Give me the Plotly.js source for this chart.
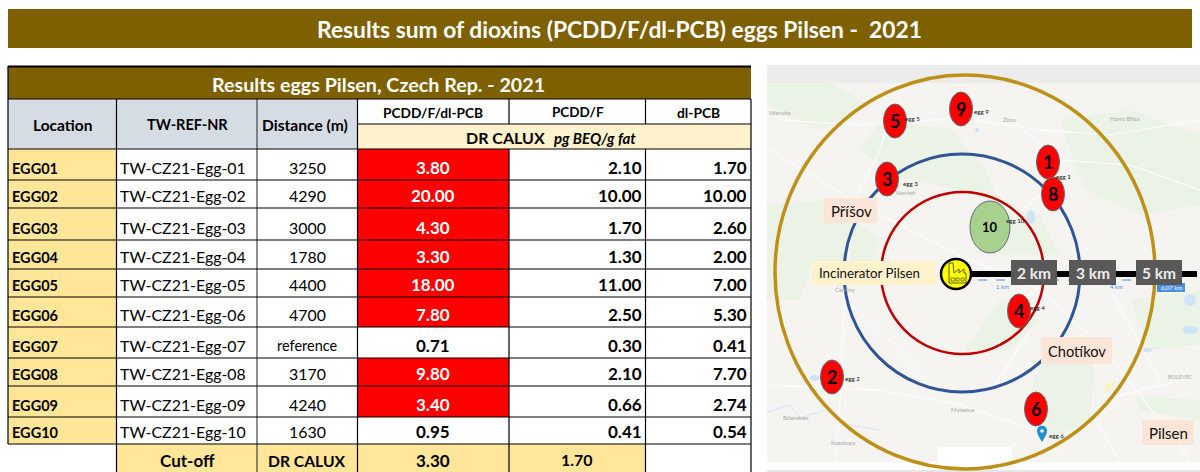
<!DOCTYPE html>
<html><head><meta charset="utf-8">
<script src="https://cdn.plot.ly/plotly-3.0.1.min.js"></script>
<style>html,body{margin:0;padding:0;background:#fff}#c{width:1200px;height:472px}</style>
</head><body><div id="c"></div>
<script>
// ---- chart data ----
const pageTitle = "Results sum of dioxins (PCDD/F/dl-PCB) eggs Pilsen -\u00A0\u00A02021";
const tableTitle = "Results eggs Pilsen, Czech Rep. - 2021";
const locations = ["EGG01","EGG02","EGG03","EGG04","EGG05","EGG06","EGG07","EGG08","EGG09","EGG10"];
const refNumbers = ["TW-CZ21-Egg-01","TW-CZ21-Egg-02","TW-CZ21-Egg-03","TW-CZ21-Egg-04","TW-CZ21-Egg-05","TW-CZ21-Egg-06","TW-CZ21-Egg-07","TW-CZ21-Egg-08","TW-CZ21-Egg-09","TW-CZ21-Egg-10"];
const distances = ["3250","4290","3000","1780","4400","4700","reference","3170","4240","1630"];
const totalTeq = [3.80,20.00,4.30,3.30,18.00,7.80,0.71,9.80,3.40,0.95];
const pcddTeq = [2.10,10.00,1.70,1.30,11.00,2.50,0.30,2.10,0.66,0.41];
const dlpcbTeq = [1.70,10.00,2.60,2.00,7.00,5.30,0.41,7.70,2.74,0.54];
const cutoffTotal = 3.30;
const cutoffPcdd = 1.70;
const ringLabels = ["2 km","3 km","5 km"];
const eggNumbers = ["1","2","3","4","5","6","8","9","10"];
const placeNames = ["Příšov","Incinerator Pilsen","Chotíkov","Pilsen"];
const mapNames = ["Všeruby","Žilov","Horní Bříza","Nevřeň","Čeminy","Malesice","Bdeněves","Kozolupy","BOLEVEC"];

// ---- layout geometry (page pixels) ----
const FONT = "Lato, Carlito, sans-serif";
const rows = [149,180,208,240,269,297,327,358,386,417,444];
const BROWN="#7F6000", GRAY="#D6DCE4", YEL="#FFE699", LYEL="#FFF2CC", RED="#FF0000", INK="#000000";
const shapes=[], anns=[];
const rect=(x0,y0,x1,y1,fill,lw,lc)=>shapes.push({type:"rect",xref:"x",yref:"y",x0,y0,x1,y1,fillcolor:fill,line:{width:lw||0,color:lc||"rgba(0,0,0,0)"},layer:"below"});
const ln=(x0,y0,x1,y1,c,w,d)=>shapes.push({type:"line",xref:"x",yref:"y",x0,y0,x1,y1,line:{color:c,width:w,dash:d||"solid"},layer:"below"});
const oval=(cx,cy,rx,ry,fill,c,w)=>shapes.push({type:"circle",xref:"x",yref:"y",x0:cx-rx,x1:cx+rx,y0:cy-ry,y1:cy+ry,fillcolor:fill,line:{color:c,width:w},layer:"below"});
const path=(d,fill,c,w)=>shapes.push({type:"path",xref:"x",yref:"y",path:d,fillcolor:fill||"rgba(0,0,0,0)",line:{color:c||"rgba(0,0,0,0)",width:w||0},layer:"below"});
const txt=(x,y,text,size,color,anchor)=>anns.push({xref:"x",yref:"y",x,y,text,showarrow:false,xanchor:anchor||"center",yanchor:"middle",font:{family:FONT,size,color:color||INK},borderpad:0,borderwidth:0});

// page title
rect(8,9,1192,48,BROWN);
txt(619,28.5,"<b>"+pageTitle+"</b>",22.8,"#fff");

// table background and fills
rect(8,67,751,99,BROWN);
txt(378.5,84,"<b>"+tableTitle+"</b>",19.7,"#fff");
rect(8,99,357.5,149,GRAY);
rect(357.5,124,751,149,LYEL);
rect(8,149,116.5,444,YEL);
rect(116.5,444,645.5,472,YEL);
const fmt=v=>v.toFixed(2);
locations.forEach((loc,i)=>{
  const top=rows[i], bot=rows[i+1]||444;
  if(totalTeq[i]>=cutoffTotal) rect(357.5,top,509,bot,RED);
});
// table rules
const LW=1.2;
ln(8,66.5,751,66.5,INK,1.8);
ln(8,66,8,444,INK,LW);
ln(751,99,751,472,INK,LW);
ln(116.5,99,116.5,472,INK,LW);
ln(257,99,257,472,"#444",LW);
ln(357.5,99,357.5,472,INK,LW);
ln(509,99,509,124,INK,LW);
ln(509,149,509,472,INK,LW);
ln(645.5,99,645.5,124,INK,LW);
ln(645.5,149,645.5,472,INK,LW);
ln(357.5,124,751,124,INK,LW);
ln(8,99,751,99,INK,LW);
rows.forEach(y=>ln(8,y,751,y,INK,LW));

// header text
txt(62,124.5,"<b>Location</b>",15.5);
txt(187,124.5,"<b>TW-REF-NR</b>",14.5);
txt(305,124.5,"<b>Distance (m)</b>",15.6);
txt(433,112,"<b>PCDD/F/dl-PCB</b>",13.7);
txt(577.5,112,"<b>PCDD/F</b>",13.5);
txt(698,112,"<b>dl-PCB</b>",13.8);
txt(505.5,137,"<b>DR CALUX</b>",16);
txt(595,138,"<b><i>pg BEQ/g fat</i></b>",15);

// body text
locations.forEach((loc,i)=>{
  const bot=rows[i+1]||444, y=bot-13;
  txt(12,y+1.5,"<b>"+loc+"</b>",14.5,INK,"left");
  txt(120,y,refNumbers[i],15.9,INK,"left");
  txt(307,y,distances[i],distances[i]==="reference"?14.5:15.9);
  const hot=totalTeq[i]>=cutoffTotal;
  txt(433,y,"<b>"+fmt(totalTeq[i])+"</b>",17,hot?"#fff":INK);
  txt(642,y,"<b>"+fmt(pcddTeq[i])+"</b>",17,INK,"right");
  txt(747,y,"<b>"+fmt(dlpcbTeq[i])+"</b>",17,INK,"right");
});
txt(187,460.5,"<b>Cut-off</b>",17);
txt(307,460.5,"<b>DR CALUX</b>",15.7);
txt(433,460.5,"<b>"+fmt(cutoffTotal)+"</b>",17);
txt(577,459.5,"<b>"+fmt(cutoffPcdd)+"</b>",16);

// ---- map backdrop ----
rect(767,65,1200,83,"#ECECEC");
rect(767,83,1200,462,"#F5F4F1");
rect(767,470,1200,472,"#E6E6E6");
const G="#EBF3E6";
[
 "M767 205 L830 200 L880 240 L872 262 L812 262 L800 300 L767 300 Z",
 "M880 122 L950 128 L985 170 L1000 205 L960 190 L900 178 L860 150 Z",
 "M1060 120 L1130 110 L1200 135 L1200 205 L1140 215 L1085 190 Z",
 "M990 205 L1040 215 L1060 255 L1000 255 Z",
 "M1040 365 L1095 345 L1090 420 L1050 440 L1030 395 Z",
 "M1130 300 L1200 290 L1200 345 L1150 350 Z",
 "M1000 300 L1040 320 L1010 350 L965 350 Z",
 "M767 83 L830 83 L870 105 L820 130 L767 105 Z",
 "M1135 395 L1200 400 L1200 420 L1140 410 Z"
].forEach(d=>path(d,G));
const R="#FBFBFA";
[
 "M767 148 L860 205 L960 255 L1040 290 L1100 345 L1140 395 L1190 460",
 "M1190 378 L1120 395 L1095 420 L1120 462",
 "M780 120 L860 125 L960 118 L1040 130 L1110 135 L1200 120",
 "M895 100 L880 150 L855 200 L845 285 L840 400 L835 462",
 "M767 385 L880 390 L960 405 L1035 430 L1060 455",
 "M1010 118 L1060 160 L1130 165 L1200 190",
 "M1060 180 L1015 215 L990 200",
 "M1110 290 L1160 380",
 "M845 300 L895 345 L930 385",
 "M1030 330 L995 385"
].forEach(d=>path(d,null,R,1.4));
// water
[[977,130,2,2],[1031,217,4,7],[815,378,5,3],[1190,330,8,4],[1190,300,6,6],[1147,350,5,2]].forEach(w=>oval(w[0],w[1],w[2],w[3],"#CFE4F6","rgba(0,0,0,0)",0));
path("M767 412 L790 405 L800 418 L825 410 L850 425 L880 430",null,"#D5E5F5",1);
path("M1105 385 L1117 380 L1113 390 L1105 392 Z","#FBF3C8");
// faded place names
const mapNamePos=[[780,112],[1010,119],[1125,118],[905,192],[845,289],[962,409],[796,417],[843,442],[1180,377]];
mapNames.forEach((n,i)=>txt(mapNamePos[i][0],mapNamePos[i][1],n,i===8?5.5:6,"#A8A8A8"));
// scale ruler under the rings
ln(960,280,1152,280,"#4A90E2",1,"dash");
txt(1002,286,"1 km",6,"#4A90E2");
txt(1116,286,"4 km",6,"#4A90E2");
rect(1157,283,1185,292,"#4A90E2");
txt(1171,287.5,"6,07 km",6,"#fff");
rect(938,447,1012,462,"#fff");
rect(767,462,1200,470,"#fff");

// rings
oval(965,272,190,197,"rgba(0,0,0,0)","#BF9018",3.5);
oval(962,273,118,119,"rgba(0,0,0,0)","#2F5597",3);
oval(962.5,273,81.5,81,"rgba(0,0,0,0)","#C00000",2.5);

// incinerator spoke and distance boxes
ln(960,274,1197,274,"#000",6);
const boxEdges=[[1011,1057],[1069,1116],[1136,1182]];
ringLabels.forEach((t,i)=>{
  rect(boxEdges[i][0],260,boxEdges[i][1],285,"#595959");
  txt((boxEdges[i][0]+boxEdges[i][1])/2,273,"<b>"+t+"</b>",15.5,"#EDEDED");
});
oval(956,274,15,15,"#FFFF00","#000",2.5);
path("M949 283 L949 263 L953 263 L954 273 L959 269 L959 273 L964 269 L964 273 L966 273 L966 283 Z","#FFFF00","#5b5b00",1);
path("M951 278 L955 278 L955 281 L951 281 Z M956 278 L959 278 L959 281 L956 281 Z M961 278 L964 278 L964 281 L961 281 Z","rgba(0,0,0,0)","#5b5b00",0.8);

// place name boxes
const placeBoxes=[[824,198,877,223,"#FBE5D6",851,211,15],[812,261,936,285,"#FFF2CC",869.5,273,13.3],[1041,337,1112,364,"#FBE5D6",1077,351,14.6],[1142,420,1194,445,"#FBE5D6",1168,433,15]];
placeNames.forEach((n,i)=>{
  const b=placeBoxes[i];
  rect(b[0],b[1],b[2],b[3],b[4]);
  txt(b[5],b[6],n,b[7],"#111");
});

// sampling sites
const eggPos=[[1048,162],[832,377],[887,179],[1019,311],[895,121],[1036,409],[1053,194],[961,109],[990,227]];
const eggTag=[[1063,176,"egg 1"],[852,378,"egg 2"],[910,183,"egg 3"],[1037,307,"egg 4"],[912,118,"egg 5"],[1056.5,435,"egg 6"],null,[981,111,"egg 9"],[1015,220,"egg 10"]];
eggNumbers.forEach((n,i)=>{
  const p=eggPos[i], big=n==="10";
  oval(p[0],p[1],big?20:11.5,big?26:17,big?"#A9D18E":"#FF0000","#5f6b78",1);
  txt(p[0],p[1],"<b>"+n+"</b>",big?13:18,"#000");
});
eggTag.forEach(t=>{ if(t) txt(t[0],t[1],t[2],6.2,"#111","center"); });
path("M1042 442 C1039 437 1037 434 1037 431 C1037 424 1047 424 1047 431 C1047 434 1045 437 1042 442 Z","#1E90D6");
oval(1042,431,1.8,1.8,"#fff","#fff",0);

Plotly.newPlot("c",[{x:[0,1200],y:[0,472],mode:"markers",marker:{size:1,opacity:0},hoverinfo:"skip",type:"scatter"}],{
  width:1200,height:472,margin:{l:0,r:0,t:0,b:0,pad:0},showlegend:false,
  paper_bgcolor:"#fff",plot_bgcolor:"#fff",
  xaxis:{range:[0,1200],visible:false,fixedrange:true},
  yaxis:{range:[472,0],visible:false,fixedrange:true},
  shapes,annotations:anns
},{displayModeBar:false,staticPlot:true});
</script></body></html>
